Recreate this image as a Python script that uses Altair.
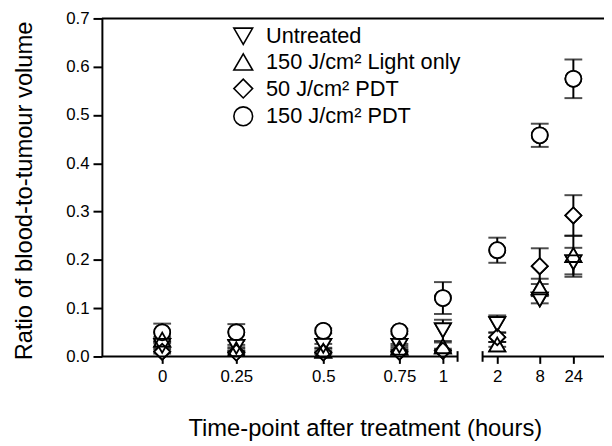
import altair as alt
import pandas as pd

# ---- data ----
hours = [0, 0.25, 0.5, 0.75, 1, 2, 8, 24]
series_names = ["Untreated", "150 J/cm² Light only", "50 J/cm² PDT", "150 J/cm² PDT"]
series_shapes = ["triangle-down", "triangle-up", "diamond", "circle"]

untreated_mean = [0.022, 0.020, 0.022, 0.022, 0.054, 0.067, 0.118, 0.195]
untreated_err = [0.005, 0.004, 0.004, 0.004, 0.022, 0.018, 0.008, 0.030]
light_mean = [0.035, 0.015, 0.012, 0.018, 0.021, 0.025, 0.143, 0.210]
light_err = [0.005, 0.004, 0.004, 0.004, 0.008, 0.005, 0.018, 0.040]
pdt50_mean = [0.010, 0.008, 0.008, 0.010, 0.012, 0.040, 0.187, 0.292]
pdt50_err = [0.004, 0.003, 0.003, 0.003, 0.004, 0.010, 0.037, 0.042]
pdt150_mean = [0.050, 0.050, 0.053, 0.052, 0.121, 0.220, 0.458, 0.575]
pdt150_err = [0.018, 0.017, 0.005, 0.005, 0.033, 0.026, 0.024, 0.040]

y_ticks = [0.0, 0.1, 0.2, 0.3, 0.4, 0.5, 0.6, 0.7]

# ---- long table ----
rows = []
for name, means, errs in zip(
    series_names,
    [untreated_mean, light_mean, pdt50_mean, pdt150_mean],
    [untreated_err, light_err, pdt50_err, pdt150_err],
):
    for h, m, e in zip(hours, means, errs):
        rows.append({"hour": h, "series": name, "mean": m, "lo": m - e, "hi": m + e})
df = pd.DataFrame(rows)

# ---- layout / style ----
W, H = 508, 342
FONT = "Liberation Sans"
X_TITLE = "Time-point after treatment (hours)"
Y_TITLE = "Ratio of blood-to-tumour volume"
SYM = 262

# broken (piecewise) time axis
AX_LEFT, BREAK_L, BREAK_R, AX_RIGHT = -0.2, 1.27, 1.73, 40
x_scale = alt.Scale(
    domain=[AX_LEFT] + hours + [AX_RIGHT],
    range=[0, 61, 136, 224, 301, 345, 400, 443, 477, W],
    nice=False,
    zero=False,
)
y_scale = alt.Scale(domain=[0, 0.7], nice=False, zero=True)

x_axis = alt.Axis(
    values=hours,
    format="~g",
    domain=False,
    grid=False,
    tickSize=7,
    tickWidth=2,
    labelFontSize=17,
    labelPadding=5,
    titleFontSize=24,
    titleFontWeight="normal",
    titleX=266,
    titleY=80,
    titleBaseline="alphabetic",
)
y_axis = alt.Axis(
    values=y_ticks,
    format=".1f",
    grid=False,
    tickSize=9,
    tickWidth=2,
    domainWidth=2,
    labelFontSize=17,
    labelPadding=4,
    titleFontSize=24,
    titleFontWeight="normal",
    titleX=-71,
    titleY=174,
    titleBaseline="alphabetic",
)

X = alt.X("hour:Q", scale=x_scale, axis=x_axis, title=X_TITLE)
Y_MEAN = alt.Y("mean:Q", scale=y_scale, axis=y_axis, title=Y_TITLE)

shape_enc = alt.Shape(
    "series:N",
    scale=alt.Scale(domain=series_names, range=series_shapes),
    legend=alt.Legend(
        orient="none",
        legendX=132,
        legendY=7,
        title=None,
        labelFontSize=22,
        labelFont=FONT,
        labelColor="black",
        labelLimit=0,
        symbolSize=361,
        symbolStrokeWidth=1.6,
        labelOffset=12,
        rowPadding=2,
        padding=0,
    ),
)

base = alt.Chart(df)

# open outline layer first: it defines the legend symbols
pts_outline_a = base.mark_point(
    filled=False, color="black", size=SYM, opacity=1, strokeWidth=1.8
).encode(x=X, y=Y_MEAN, shape=shape_enc)

err_lines = base.mark_rule(color="black", strokeWidth=2).encode(
    x=X,
    y=alt.Y("lo:Q", scale=y_scale, axis=y_axis, title=Y_TITLE),
    y2="hi:Q",
)
cap_hi = base.mark_tick(orient="horizontal", size=18, thickness=2, color="black").encode(
    x=X, y=alt.Y("hi:Q", scale=y_scale, axis=y_axis, title=Y_TITLE)
)
cap_lo = base.mark_tick(orient="horizontal", size=18, thickness=2, color="black").encode(
    x=X, y=alt.Y("lo:Q", scale=y_scale, axis=y_axis, title=Y_TITLE)
)
# white-filled pass hides error-bar lines inside the symbols
pts_fill = base.mark_point(filled=True, color="white", size=SYM, opacity=1).encode(
    x=X, y=Y_MEAN, shape=shape_enc
)
# open outline pass keeps overlapping outlines visible
pts_outline_b = base.mark_point(
    filled=False, color="black", size=SYM, opacity=1, strokeWidth=1.8
).encode(x=X, y=Y_MEAN, shape=shape_enc)

deco = alt.Chart(pd.DataFrame({"d": [0]}))
top_line = deco.mark_rule(color="black", strokeWidth=2).encode(y=alt.datum(0.7))
x_seg1 = deco.mark_rule(color="black", strokeWidth=2).encode(
    x=alt.datum(AX_LEFT), x2=alt.datum(BREAK_L), y=alt.datum(0)
)
x_seg2 = deco.mark_rule(color="black", strokeWidth=2).encode(
    x=alt.datum(BREAK_R), x2=alt.datum(AX_RIGHT), y=alt.datum(0)
)
brk1 = deco.mark_rule(color="black", strokeWidth=2).encode(
    x=alt.datum(BREAK_L), y=alt.datum(-0.011), y2=alt.datum(0.011)
)
brk2 = deco.mark_rule(color="black", strokeWidth=2).encode(
    x=alt.datum(BREAK_R), y=alt.datum(-0.011), y2=alt.datum(0.011)
)

chart = (
    alt.layer(
        pts_outline_a, err_lines, cap_hi, cap_lo, pts_fill, pts_outline_b,
        top_line, x_seg1, x_seg2, brk1, brk2,
    )
    .properties(
        width=W,
        height=H,
        autosize=alt.AutoSizeParams(type="none"),
        padding={"left": 95, "top": 8, "right": 0, "bottom": 86},
        background="white",
    )
    .configure_view(stroke=None)
    .configure_axis(
        labelFont=FONT,
        titleFont=FONT,
        labelColor="black",
        titleColor="black",
        domainColor="black",
        tickColor="black",
    )
)

chart.save("out.html", embed_options={"renderer": "svg", "actions": False})
